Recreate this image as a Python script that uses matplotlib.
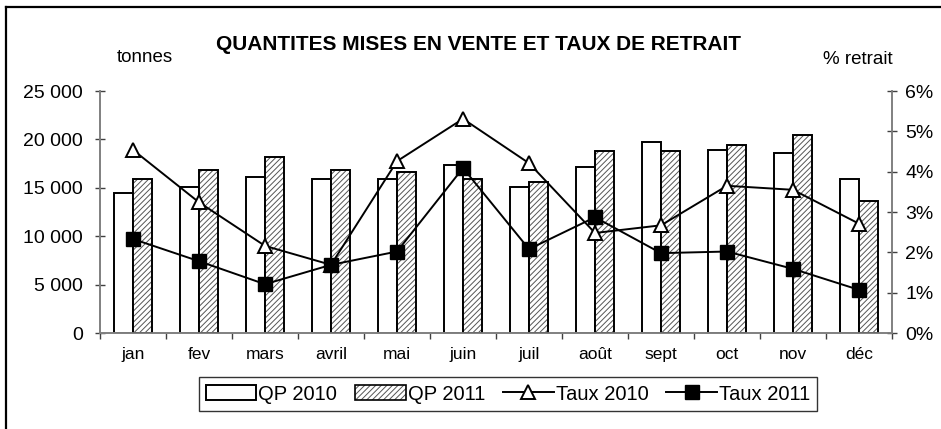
import matplotlib
matplotlib.use("Agg")
import matplotlib.pyplot as plt
import numpy as np
from matplotlib.ticker import FuncFormatter, FixedLocator
from matplotlib.lines import Line2D
from matplotlib.patches import Patch
from matplotlib.legend_handler import HandlerTuple

months = ["jan", "fev", "mars", "avril", "mai", "juin", "juil", "août", "sept", "oct", "nov", "déc"]
qp2010 = [14500, 15100, 16100, 15900, 15900, 17400, 15100, 17100, 19700, 18950, 18550, 15900]
qp2011 = [15950, 16800, 18150, 16800, 16600, 15950, 15600, 18800, 18850, 19400, 20500, 13600]
taux2010 = [4.54, 3.24, 2.16, 1.69, 4.26, 5.31, 4.21, 2.48, 2.67, 3.65, 3.55, 2.71]
taux2011 = [2.33, 1.78, 1.21, 1.69, 2.02, 4.09, 2.08, 2.87, 1.98, 2.02, 1.59, 1.07]
left_ticks = [0, 5000, 10000, 15000, 20000, 25000]
right_ticks = [0, 1, 2, 3, 4, 5, 6]

plt.rcParams['font.family'] = ['Liberation Sans', 'DejaVu Sans']
plt.rcParams['hatch.linewidth'] = 0.7

fig = plt.figure(figsize=(9.41, 4.29), dpi=100)
ax = fig.add_axes([100/941, 1-333/429, 792/941, 242/429])
ax2 = ax.twinx()

x = np.arange(len(months))
w = 0.29
ax.bar(x - w/2, qp2010, width=w, facecolor='white', edgecolor='black', linewidth=1.4, zorder=2)
ax.bar(x + w/2, qp2011, width=w, facecolor='white', edgecolor='#555555', hatch='//////', linewidth=0, zorder=2)
ax.bar(x + w/2, qp2011, width=w, fill=False, edgecolor='black', linewidth=1.4, zorder=3)

ax.set_xlim(-0.5, len(months) - 0.5)
ax.set_ylim(0, 25000)
ax2.set_ylim(0, 6)

ax2.plot(x, taux2010, color='black', lw=1.4, marker='^', markersize=10.5,
         markerfacecolor='white', markeredgecolor='black', markeredgewidth=1.4, zorder=4)
ax2.plot(x, taux2011, color='black', lw=1.4, marker='s', markersize=9.5,
         markerfacecolor='black', markeredgecolor='black', zorder=5)

ax.yaxis.set_major_locator(FixedLocator(left_ticks))
ax.yaxis.set_major_formatter(FuncFormatter(lambda v, p: f"{int(v):,}".replace(",", " ")))
ax2.yaxis.set_major_locator(FixedLocator(right_ticks))
ax2.yaxis.set_major_formatter(FuncFormatter(lambda v, p: f"{int(v)}%"))

ax.set_xticks(x)
ax.set_xticklabels(months, fontsize=12.5)
ax.set_xticks(np.arange(len(months) + 1) - 0.5, minor=True)
ax.tick_params(axis='x', which='major', length=0, pad=10)
ax.tick_params(axis='x', which='minor', length=4, width=1, color='#404040', direction='out')
ax.tick_params(axis='y', length=7, width=1, color='#404040', direction='inout', labelsize=14, pad=9)
ax2.tick_params(axis='y', length=7, width=1, color='#404040', direction='inout', labelsize=14, pad=6)

for a in (ax, ax2):
    a.spines['top'].set_visible(False)
    for s in ('left', 'right', 'bottom'):
        a.spines[s].set_color('#808080')
        a.spines[s].set_linewidth(1.2)
ax.set_zorder(ax2.get_zorder() - 1)
ax2.patch.set_visible(False)
ax.patch.set_visible(False)

fig.text(478/941, 1-45/429, "QUANTITES MISES EN VENTE ET TAUX DE RETRAIT",
         ha='center', va='center', fontsize=15, fontweight='bold')
fig.text(145/941, 1-57/429, "tonnes", ha='center', va='center', fontsize=13.5)
fig.text(858/941, 1-60/429, "% retrait", ha='center', va='center', fontsize=13.5)

h2010 = Patch(facecolor='white', edgecolor='black', linewidth=1.4)
h2011 = (Patch(facecolor='white', edgecolor='#555555', hatch='//////', linewidth=0),
         Patch(fill=False, edgecolor='black', linewidth=1.2))
ht10 = Line2D([], [], color='black', lw=1.4, marker='^', markersize=10.5,
              markerfacecolor='white', markeredgewidth=1.4)
ht11 = Line2D([], [], color='black', lw=1.4, marker='s', markersize=9.5, markerfacecolor='black')
leg = fig.legend([h2010, h2011, ht10, ht11], ["QP 2010", "QP 2011", "Taux 2010", "Taux 2011"], ncol=4,
                 loc='center', bbox_to_anchor=(508/941, 1-394/429), frameon=True, fancybox=False,
                 edgecolor='black', fontsize=14.5, handlelength=2.5, handletextpad=0.1,
                 columnspacing=0.9, borderpad=0.35,
                 handler_map={tuple: HandlerTuple(ndivide=1, pad=0)})
leg.get_frame().set_linewidth(1.0)

fig.add_artist(Line2D([6/941, 6/941], [0, 1-7/429], color='black', lw=1.6, transform=fig.transFigure))
fig.add_artist(Line2D([6/941, 1], [1-7/429, 1-7/429], color='black', lw=1.6, transform=fig.transFigure))

fig.savefig("out.png", dpi=100)
